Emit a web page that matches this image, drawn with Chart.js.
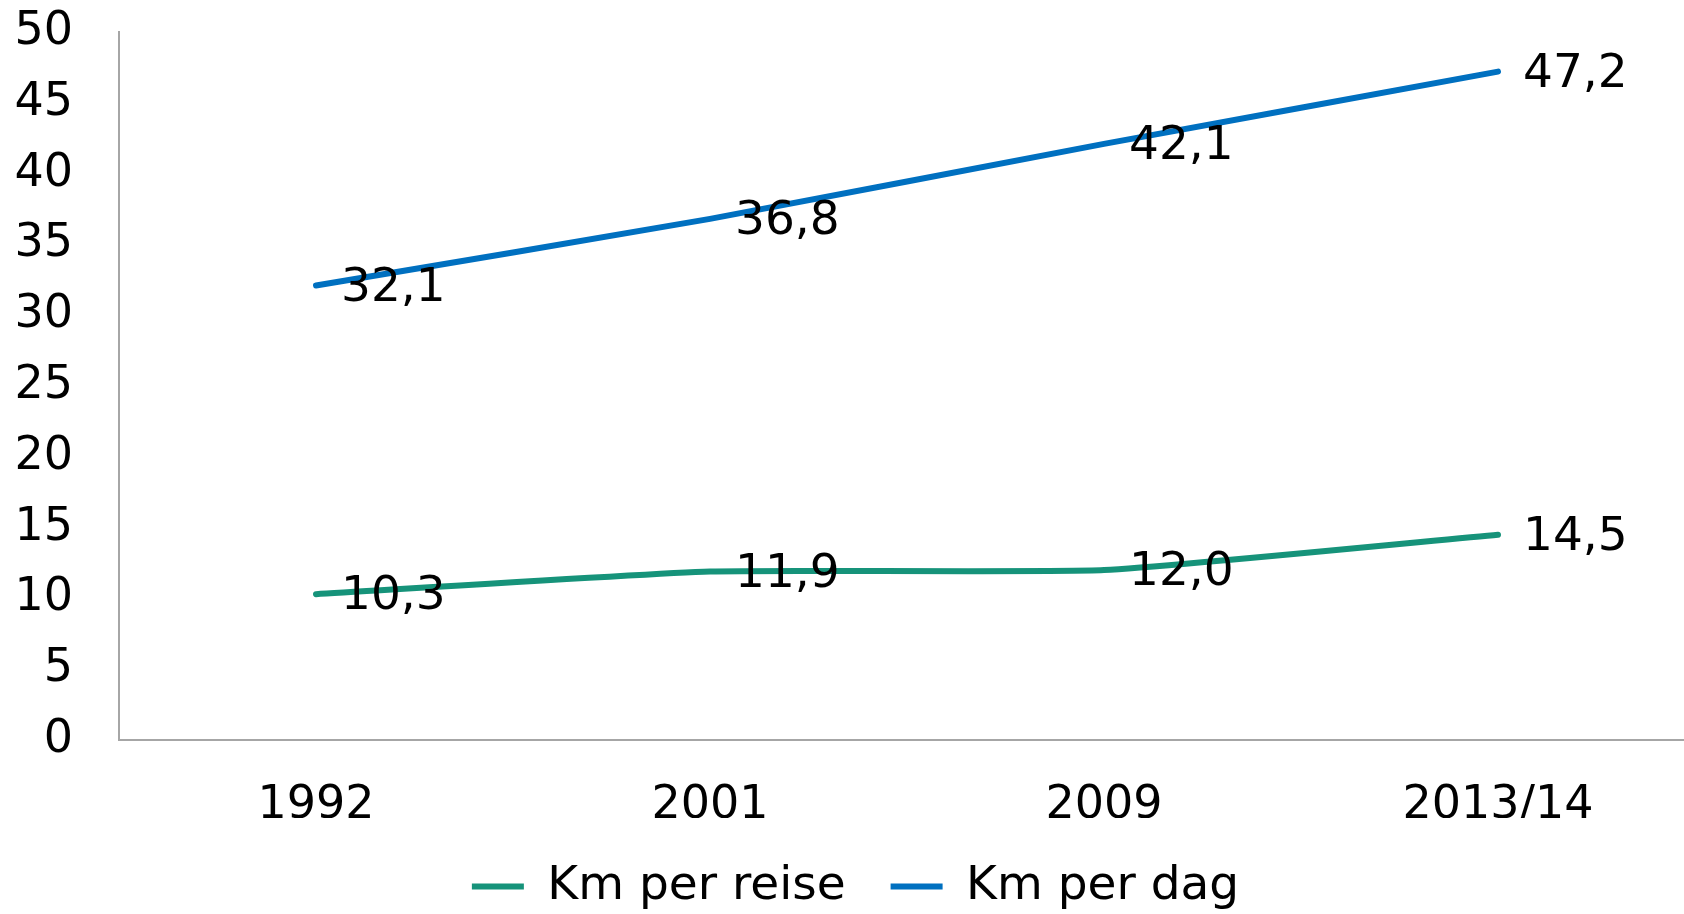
<!DOCTYPE html>
<html>
<head>
<meta charset="utf-8">
<script src="https://cdn.jsdelivr.net/npm/chart.js@4/dist/chart.umd.min.js"></script>
<style>
	html, body { margin: 0; padding: 0; background: #fff; overflow: hidden; }
	#wrap { width: 1700px; height: 914px; }
</style>
</head>
<body>
<div id="wrap"><canvas id="km" width="1700" height="914"></canvas></div>
<script>
// chart data
const years = ['1992', '2001', '2009', '2013/14'];
const kmPerReise = [10.3, 11.9, 12.0, 14.5];
const kmPerDag = [32.1, 36.8, 42.1, 47.2];
const seriesNames = ['Km per reise', 'Km per dag'];
const yTicks = [0, 5, 10, 15, 20, 25, 30, 35, 40, 45, 50];

const FONT = 'DejaVu Sans';

// draw the value next to each point, Norwegian decimal comma
const valueLabels = {
	id: 'valueLabels',
	afterDatasetsDraw(chart) {
		const ctx = chart.ctx;
		ctx.save();
		ctx.font = '47px "' + FONT + '"';
		ctx.fillStyle = '#000';
		ctx.textAlign = 'left';
		ctx.textBaseline = 'middle';
		chart.data.datasets.forEach(function(ds, i) {
			const meta = chart.getDatasetMeta(i);
			meta.data.forEach(function(pt, j) {
				const txt = ds.data[j].toFixed(1).replace('.', ',');
				ctx.fillText(txt, pt.x + 25, pt.y + 3);
			});
		});
		ctx.restore();
	}
};

const ctx = document.getElementById('km').getContext('2d');
const chart = new Chart(ctx, {
	type: 'line',
	data: {
		labels: years,
		datasets: [{
			label: seriesNames[0],
			data: kmPerReise,
			borderColor: '#16937a',
			backgroundColor: '#16937a',
			borderWidth: 6,
			borderCapStyle: 'round',
			pointRadius: 0,
			tension: 0.15
		}, {
			label: seriesNames[1],
			data: kmPerDag,
			borderColor: '#0070c0',
			backgroundColor: '#0070c0',
			borderWidth: 6,
			borderCapStyle: 'round',
			pointRadius: 0,
			tension: 0.15
		}]
	},
	options: {
		responsive: false,
		devicePixelRatio: 1,
		animation: false,
		layout: {
			padding: { left: 16, right: 5, top: 32, bottom: -6 }
		},
		scales: {
			x: {
				offset: true,
				afterFit(axis) {
					axis.height = 78;
				},
				grid: { display: false, drawTicks: false },
				border: { display: true, color: '#a6a6a6', width: 2 },
				ticks: {
					color: '#000',
					font: { family: FONT, size: 46 },
					padding: 38,
					maxRotation: 0
				}
			},
			y: {
				min: 0,
				max: 50,
				afterBuildTicks(axis) {
					axis.ticks = yTicks.map(v => ({ value: v }));
				},
				afterFit(axis) {
					axis.width = 103; // labels + gap to the axis line
					axis.paddingTop = 0;
					axis.paddingBottom = 0;
				},
				grid: { display: false, drawTicks: false },
				border: { display: true, color: '#a6a6a6', width: 2 },
				ticks: {
					color: '#000',
					font: { family: FONT, size: 46 },
					padding: 46
				}
			}
		},
		plugins: {
			legend: {
				position: 'bottom',
				labels: {
					color: '#000',
					font: { family: FONT, size: 47, lineHeight: 1 },
					usePointStyle: true,
					pointStyle: 'line',
					pointStyleWidth: 52,
					boxHeight: 5,
					padding: 45
				}
			},
			tooltip: { enabled: false }
		}
	},
	plugins: [valueLabels]
});
</script>
</body>
</html>
